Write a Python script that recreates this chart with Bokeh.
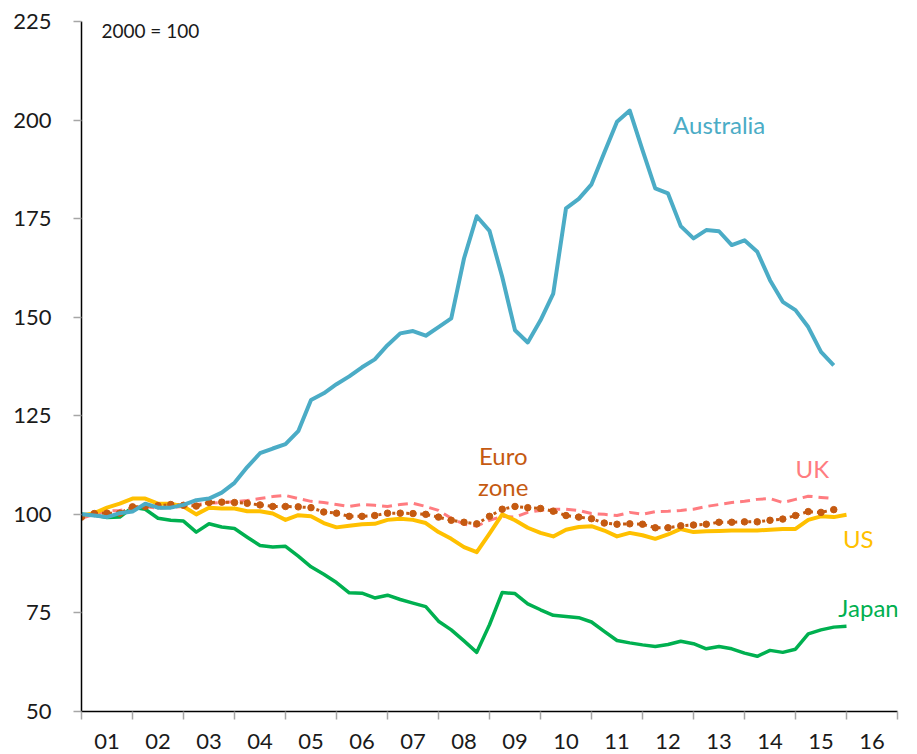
from bokeh.plotting import figure
from bokeh.models import FixedTicker, Range1d
from bokeh.core.properties import value
from bokeh.embed import file_html
from bokeh.resources import INLINE

# Quarterly index values (2000 = 100), first quarter of 2001 onward
australia = [100.0, 99.7, 99.3, 100.3, 100.7, 102.7, 101.7, 101.7, 102.4, 103.6,
             104.0, 105.5, 108.0, 112.0, 115.5, 116.7, 117.8, 121.1, 129.0, 130.7,
             133.0, 135.0, 137.3, 139.3, 142.9, 145.9, 146.5, 145.3, 147.5, 149.7,
             164.9, 175.6, 171.9, 160.2, 146.7, 143.6, 149.2, 156.0, 177.6, 180.0,
             183.7, 191.7, 199.6, 202.4, 192.4, 182.7, 181.4, 173.1, 170.0, 172.1,
             171.8, 168.3, 169.5, 166.6, 159.4, 153.9, 151.8, 147.5, 141.2, 137.8]
euro_zone = [99.3, 100.2, 100.3, 100.3, 101.9, 102.0, 102.2, 102.5, 102.3, 102.1,
             103.0, 103.1, 103.0, 102.8, 102.4, 102.0, 102.0, 101.9, 101.7, 100.6,
             100.3, 99.5, 99.5, 99.7, 100.3, 100.3, 100.2, 100.0, 99.3, 98.5,
             98.0, 97.6, 99.5, 101.3, 102.0, 101.7, 101.5, 100.8, 99.7, 99.3,
             98.9, 97.8, 97.5, 97.6, 97.5, 96.6, 96.6, 97.1, 97.3, 97.5,
             98.0, 98.0, 98.1, 98.1, 98.5, 98.8, 99.7, 100.7, 100.5, 101.2]
uk = [99.0, 100.0, 100.8, 101.0, 101.5, 102.0, 101.5, 101.8, 102.0, 102.5,
      102.8, 103.0, 103.2, 103.5, 104.0, 104.5, 104.8, 104.0, 103.3, 103.0,
      102.5, 102.0, 102.5, 102.3, 102.0, 102.5, 102.8, 102.0, 101.0, 99.0,
      97.5, 97.0, 98.5, 99.5, 99.3, 100.5, 101.0, 101.3, 101.3, 101.0,
      100.2, 100.0, 99.7, 100.5, 100.0, 100.7, 100.8, 101.0, 101.3, 102.0,
      102.5, 103.0, 103.3, 103.8, 104.0, 103.0, 103.8, 104.6, 104.3, 104.0]
us = [99.7, 100.3, 101.7, 102.7, 104.0, 104.0, 102.7, 102.7, 102.0, 100.0,
      101.7, 101.5, 101.5, 100.8, 100.8, 100.2, 98.6, 99.8, 99.5, 97.8,
      96.7, 97.1, 97.5, 97.6, 98.6, 98.9, 98.6, 97.8, 95.5, 93.8,
      91.7, 90.4, 95.1, 100.0, 98.5, 96.6, 95.3, 94.4, 96.1, 96.8,
      97.0, 95.9, 94.4, 95.3, 94.7, 93.8, 94.9, 96.3, 95.5, 95.7,
      95.8, 95.9, 95.9, 95.9, 96.1, 96.3, 96.3, 98.6, 99.5, 99.3, 99.9]
japan = [100.0, 99.8, 99.2, 99.3, 101.8, 101.3, 99.0, 98.5, 98.3, 95.5,
         97.6, 96.8, 96.4, 94.2, 92.1, 91.7, 91.9, 89.4, 86.7, 84.8,
         82.7, 80.1, 80.0, 78.8, 79.5, 78.4, 77.5, 76.6, 72.9, 70.7,
         67.9, 65.0, 72.0, 80.2, 79.9, 77.3, 75.8, 74.4, 74.1, 73.8,
         72.7, 70.3, 68.0, 67.4, 66.9, 66.5, 67.0, 67.8, 67.2, 65.9,
         66.5, 65.9, 64.8, 64.0, 65.5, 65.0, 65.8, 69.7, 70.7, 71.4, 71.6]
year_labels = ["01", "02", "03", "04", "05", "06", "07", "08",
               "09", "10", "11", "12", "13", "14", "15", "16"]
y_ticks = [50, 75, 100, 125, 150, 175, 200, 225]

def qx(vals):
    return [i / 4 for i in range(len(vals))]

FONT = "Lato"
C_AUS = "#4BACC6"
C_EUR = "#C55A11"
C_UK = "#FF7C80"
C_US = "#FFC000"
C_JP = "#00B050"

p = figure(width=913, height=752, output_backend="svg", toolbar_location=None,
           x_range=Range1d(0, 16), y_range=Range1d(50, 225),
           min_border_left=81, min_border_right=16, min_border_top=21,
           min_border_bottom=41)
p.outline_line_color = None
p.grid.visible = False
p.background_fill_color = "white"
p.border_fill_color = "white"

# x axis: labels at year centres, ticks at year boundaries
centers = [i + 0.5 for i in range(len(year_labels))]
bounds = [float(i) for i in range(len(year_labels) + 1)]
xa = p.xaxis[0]
xa.ticker = FixedTicker(ticks=centers, minor_ticks=bounds)
xa.major_label_overrides = {c: lab for c, lab in zip(centers, year_labels)}
xa.major_tick_out = 0
xa.major_tick_in = 0
xa.minor_tick_out = 8
xa.minor_tick_in = 0
xa.minor_tick_line_color = "#A6A6A6"
xa.minor_tick_line_width = 1.5
xa.axis_line_color = "black"
xa.axis_line_width = 1.5
xa.major_label_text_font = FONT
xa.major_label_text_font_size = "22px"
xa.major_label_text_color = "#1a1a1a"
xa.major_label_standoff = 14

ya = p.yaxis[0]
ya.ticker = FixedTicker(ticks=y_ticks, minor_ticks=[])
ya.major_tick_out = 8
ya.major_tick_in = 0
ya.major_tick_line_color = "#A6A6A6"
ya.major_tick_line_width = 1.5
ya.axis_line_color = "black"
ya.axis_line_width = 1.5
ya.major_label_text_font = FONT
ya.major_label_text_font_size = "22px"
ya.major_label_text_color = "#1a1a1a"
ya.major_label_standoff = 22

# series
p.line(qx(japan), japan, line_color=C_JP, line_width=3.5, line_join="round")
p.line(qx(uk), uk, line_color=C_UK, line_width=3, line_dash="10 6")
p.line(qx(us), us, line_color=C_US, line_width=4, line_join="round")
p.line(qx(euro_zone), euro_zone, line_color=C_EUR, line_width=3, line_dash="3 4")
p.scatter(qx(euro_zone), euro_zone, marker="circle", size=6.5,
          fill_color=C_EUR, line_color=C_EUR)
p.line(qx(australia), australia, line_color=C_AUS, line_width=4, line_join="round")

# labels
def lab(x, y, t, color, size="24px", align="left"):
    p.text(x=[x], y=[y], text=[t], text_color=color, text_font=value(FONT),
           text_font_size=size, text_align=align, text_baseline="middle")

lab(11.6, 198.8, "Australia", C_AUS)
lab(8.27, 115.0, "Euro", C_EUR, align="center")
lab(8.27, 107.1, "zone", C_EUR, align="center")
lab(14.0, 111.7, "UK", C_UK)
lab(14.93, 93.9, "US", C_US)
lab(14.84, 76.4, "Japan", C_JP)
lab(0.39, 222.6, "2000 = 100", "#1a1a1a", size="19px")

open("out.html", "w").write(file_html(p, INLINE))
